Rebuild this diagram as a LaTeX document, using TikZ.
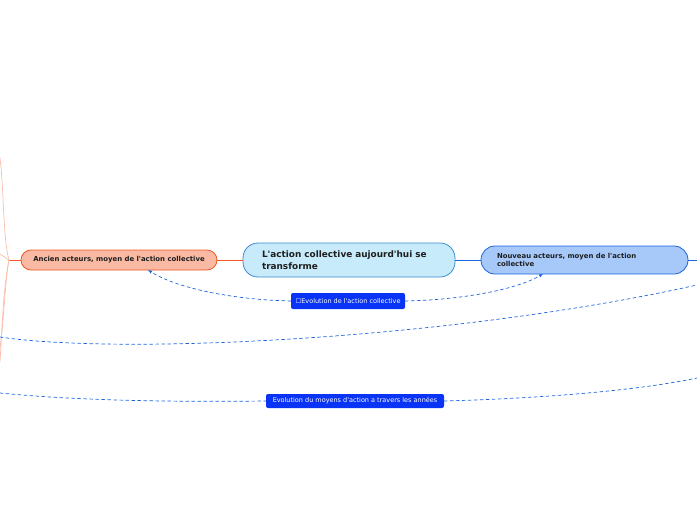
\documentclass[tikz,border=0pt]{standalone}
\usepackage{fontspec}
\setmainfont{DejaVu Sans}[Ligatures=TeXOff]
\usetikzlibrary{arrows.meta}
\definecolor{bleuciel}{RGB}{200,235,251}
\definecolor{bleubord}{RGB}{58,140,205}
\definecolor{bleunouv}{RGB}{167,201,250}
\definecolor{bleufonce}{RGB}{28,100,222}
\definecolor{saumon}{RGB}{249,185,162}
\definecolor{orangevif}{RGB}{240,88,40}
\definecolor{orangepale}{RGB}{248,190,170}
\definecolor{etiquette}{RGB}{10,52,245}
\definecolor{texte}{RGB}{30,30,30}

\begin{document}
\begin{tikzpicture}[x=1pt,y=-1pt,line join=round,line cap=round,
    centre/.style={rounded corners=15pt,draw=bleubord,fill=bleuciel,line width=0.8pt,
                   minimum width=212pt,minimum height=34pt,text width=180pt,
                   inner xsep=16pt,align=left,text=texte,
                   font=\fontsize{8.9}{12.5}\selectfont\bfseries},
    branche/.style={rounded corners=10pt,line width=0.8pt,text=texte,
                    font=\fontsize{6.9}{8.6}\selectfont\bfseries},
    etiq/.style={rounded corners=2pt,fill=etiquette,text=white,inner sep=0pt,
                 font=\fontsize{6.5}{8}\selectfont},
    lien/.style={dashed,dash pattern=on 3pt off 3pt,line width=0.7pt,bleufonce},
    fleche/.style={-{Latex[length=4pt,width=3.5pt]}},
    tige/.style={line width=0.9pt},
    rameau/.style={line width=0.7pt,orangepale}]

  \useasboundingbox (0,0) rectangle (697,520);

  % ---- noeud central ------------------------------------------------------
  \node[centre] (centre) at (349,260)
       {\hspace*{3pt}L'action collective aujourd'hui se\\\hspace*{3pt}transforme};

  % ---- les deux branches ---------------------------------------------------
  \node[branche,draw=orangevif,fill=saumon,minimum width=196pt,minimum height=20pt]
       (ancien) at (119,260) {Ancien acteurs, moyen de l'action collective};
  \node[branche,draw=bleufonce,fill=bleunouv,rounded corners=14pt,
        minimum width=207pt,minimum height=28pt,text width=175pt,
        inner xsep=16pt,align=left]
       (nouveau) at (584.5,260) {Nouveau acteurs, moyen de l'action\\collective};

  \draw[tige,orangevif] (ancien) -- (centre);
  \draw[tige,bleufonce] (centre) -- (nouveau);

  \coordinate (bord) at (697,260);
  \draw[tige,bleufonce] (nouveau) -- (bord);

  % ---- rameaux a gauche de l'ancien ---------------------------------------
  \coordinate (noeudg) at (9,260);
  \coordinate (r1) at (0,158);
  \coordinate (r2) at (0,254);
  \coordinate (r3) at (0,348);
  \coordinate (r4) at (0,362);
  \draw[tige,orangevif] (ancien.west) -- (noeudg);
  \draw[rameau] (noeudg) .. controls (3,240) and (4,190) .. (r1);
  \draw[rameau] (noeudg) -- (r2);
  \draw[rameau] (noeudg) .. controls (5,280) and (4,320) .. (r3);
  \draw[rameau] (noeudg) .. controls (3,290) and (2,330) .. (r4);

  % ---- relation entre les deux branches -----------------------------------
  \node[etiq,minimum width=114pt,minimum height=16pt] (evol) at (348,301)
       {☐Evolution de l'action collective};
  \coordinate (a1) at (148,270);
  \coordinate (n1) at (543,274);
  \draw[lien,fleche] (evol.west) .. controls (240,300) and (180,290) .. (a1);
  \draw[lien,fleche] (evol.east) .. controls (460,300) and (515,290) .. (n1);

  % ---- relations qui sortent du cadre --------------------------------------
  \coordinate (g1) at (0,337);
  \coordinate (d1) at (697,285);
  \draw[lien] (g1) .. controls (120,355) and (450,340) .. (d1);

  \node[etiq,minimum width=178pt,minimum height=14pt] (moyens) at (355,401)
       {Evolution du moyens d'action a travers les années};
  \coordinate (g2) at (0,393);
  \coordinate (d2) at (697,378);
  \draw[lien] (g2) .. controls (80,401) and (180,402) .. (moyens.west);
  \draw[lien] (moyens.east) .. controls (550,398) and (640,390) .. (d2);

\end{tikzpicture}
\end{document}
